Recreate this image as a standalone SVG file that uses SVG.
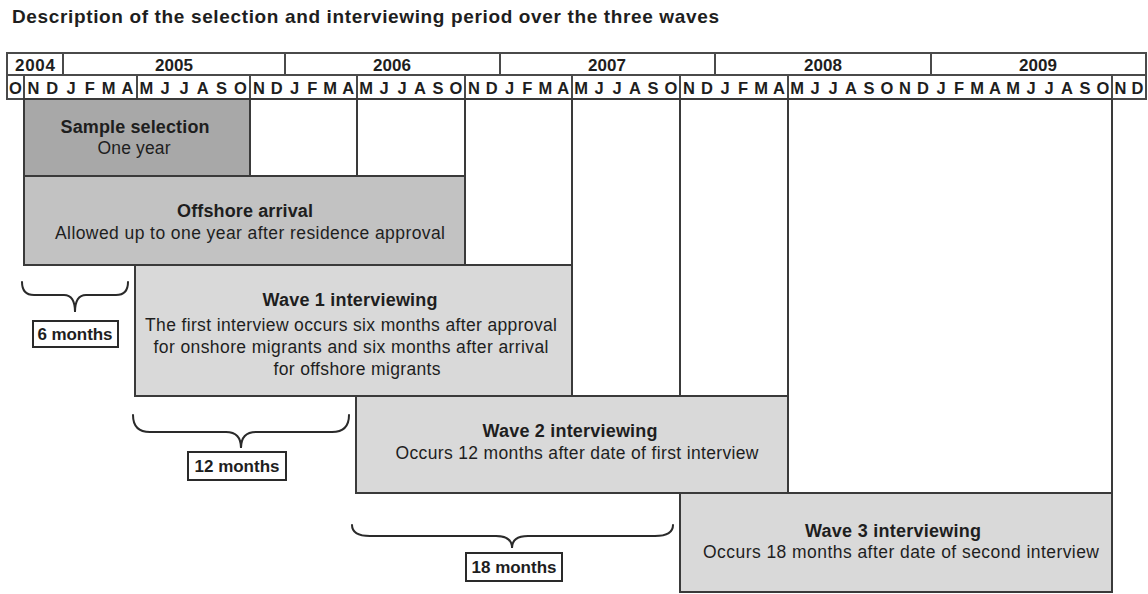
<svg xmlns="http://www.w3.org/2000/svg" width="1148" height="594" viewBox="0 0 1148 594">
<style>
text{font-family:"Liberation Sans",Arial,sans-serif;fill:#1e1e1e}
.t{font-size:19px;font-weight:bold}
.y{font-size:17px;font-weight:bold;text-anchor:middle}
.m{font-size:16.5px;font-weight:bold;text-anchor:middle}
.b{font-size:18px;font-weight:bold;text-anchor:middle}
.r{font-size:17.5px;text-anchor:middle}
.l{font-size:17px;font-weight:bold;text-anchor:middle}
.hdr{fill:#fff;stroke:#4a4a4a;stroke-width:2}
.box{stroke:#3a3a3a;stroke-width:2}
.grid{stroke:#3a3a3a;stroke-width:2;fill:none}
.brace{fill:none;stroke:#2a2a2a;stroke-width:2;stroke-linecap:round}
.lab{fill:#fff;stroke:#2a2a2a;stroke-width:2}
</style>
<rect width="1148" height="594" fill="#fff"/>
<text class="t" x="12" y="23" textLength="707">Description of the selection and interviewing period over the three waves</text>

<g id="header-years">
<rect class="hdr" x="7" y="53" width="56" height="22"/>
<rect class="hdr" x="63" y="53" width="222" height="22"/>
<rect class="hdr" x="285" y="53" width="215" height="22"/>
<rect class="hdr" x="500" y="53" width="215" height="22"/>
<rect class="hdr" x="715" y="53" width="216" height="22"/>
<rect class="hdr" x="931" y="53" width="215" height="22"/>
<text class="y" x="35" y="70.5" textLength="40">2004</text>
<text class="y" x="174" y="70.5" textLength="38">2005</text>
<text class="y" x="392" y="70.5" textLength="38">2006</text>
<text class="y" x="607" y="70.5" textLength="38">2007</text>
<text class="y" x="823" y="70.5" textLength="38">2008</text>
<text class="y" x="1038" y="70.5" textLength="38">2009</text>
</g>

<g id="header-months">
<rect class="hdr" x="7" y="75" width="17" height="24"/>
<rect class="hdr" x="24" y="75" width="113" height="24"/>
<rect class="hdr" x="137" y="75" width="113" height="24"/>
<rect class="hdr" x="250" y="75" width="107" height="24"/>
<rect class="hdr" x="357" y="75" width="108" height="24"/>
<rect class="hdr" x="465" y="75" width="107" height="24"/>
<rect class="hdr" x="572" y="75" width="108" height="24"/>
<rect class="hdr" x="680" y="75" width="108" height="24"/>
<rect class="hdr" x="788" y="75" width="324" height="24"/>
<rect class="hdr" x="1112" y="75" width="34" height="24"/>
<text class="m" y="93.5"><tspan x="15.5">O</tspan><tspan x="33.4">N</tspan><tspan x="52.2">D</tspan><tspan x="71">J</tspan><tspan x="89.8">F</tspan><tspan x="108.6">M</tspan><tspan x="127.5">A</tspan><tspan x="146.4">M</tspan><tspan x="165.2">J</tspan><tspan x="184">J</tspan><tspan x="202.8">A</tspan><tspan x="221.6">S</tspan><tspan x="240.5">O</tspan><tspan x="258.9">N</tspan><tspan x="276.7">D</tspan><tspan x="294.5">J</tspan><tspan x="312.4">F</tspan><tspan x="330.2">M</tspan><tspan x="348.1">A</tspan><tspan x="366">M</tspan><tspan x="384">J</tspan><tspan x="402">J</tspan><tspan x="420">A</tspan><tspan x="438">S</tspan><tspan x="456">O</tspan><tspan x="473.9">N</tspan><tspan x="491.8">D</tspan><tspan x="509.6">J</tspan><tspan x="527.4">F</tspan><tspan x="545.3">M</tspan><tspan x="563.1">A</tspan><tspan x="581">M</tspan><tspan x="599">J</tspan><tspan x="617">J</tspan><tspan x="635">A</tspan><tspan x="653">S</tspan><tspan x="671">O</tspan><tspan x="689">N</tspan><tspan x="707">D</tspan><tspan x="725">J</tspan><tspan x="743">F</tspan><tspan x="761">M</tspan><tspan x="779">A</tspan><tspan x="797">M</tspan><tspan x="815">J</tspan><tspan x="833">J</tspan><tspan x="851">A</tspan><tspan x="869">S</tspan><tspan x="887">O</tspan><tspan x="905">N</tspan><tspan x="923">D</tspan><tspan x="941">J</tspan><tspan x="959">F</tspan><tspan x="977">M</tspan><tspan x="995">A</tspan><tspan x="1013">M</tspan><tspan x="1031">J</tspan><tspan x="1049">J</tspan><tspan x="1067">A</tspan><tspan x="1085">S</tspan><tspan x="1103">O</tspan><tspan x="1120.5">N</tspan><tspan x="1137.5">D</tspan></text>
</g>

<g id="grid">
<path class="grid" d="M250 99V176 M357 99V176 M465 99V265 M572 99V396 M680 99V396 M788 99V493 M1112 99V592 M250 99H1112"/>
</g>

<g id="sample-selection">
<rect class="box" x="24" y="99" width="226" height="77" fill="#a8a8a8"/>
<text class="b" x="135" y="133" textLength="149">Sample selection</text>
<text class="r" x="134" y="154" textLength="73">One year</text>
</g>

<g id="offshore-arrival">
<rect class="box" x="24" y="176" width="441" height="89" fill="#c2c2c2"/>
<text class="b" x="245" y="217" textLength="136">Offshore arrival</text>
<text class="r" x="250" y="239" textLength="390">Allowed up to one year after residence approval</text>
</g>

<g id="wave1">
<rect class="box" x="135" y="265" width="437" height="131" fill="#d9d9d9"/>
<text class="b" x="350" y="306" textLength="175">Wave 1 interviewing</text>
<text class="r" x="351" y="331" textLength="412">The first interview occurs six months after approval</text>
<text class="r" x="351" y="353" textLength="395">for onshore migrants and six months after arrival</text>
<text class="r" x="357" y="375" textLength="167">for offshore migrants</text>
</g>

<g id="wave2">
<rect class="box" x="356" y="396" width="432" height="97" fill="#d9d9d9"/>
<text class="b" x="570" y="437" textLength="175">Wave 2 interviewing</text>
<text class="r" x="577" y="459" textLength="363">Occurs 12 months after date of first interview</text>
</g>

<g id="wave3">
<rect class="box" x="680" y="493" width="432" height="99" fill="#d9d9d9"/>
<text class="b" x="893" y="537" textLength="176">Wave 3 interviewing</text>
<text class="r" x="901" y="558" textLength="396">Occurs 18 months after date of second interview</text>
</g>

<g id="connectors">
<path class="brace" d="M22 282 Q22 295 34 295 L64 295 Q75 295 75 312 Q75 295 86 295 L116 295 Q128 295 128 282"/>
<path class="brace" d="M133 415 Q133 432 150 432 L226 432 Q241 432 241 448 Q241 432 256 432 L332 432 Q349 432 349 415"/>
<path class="brace" d="M352 525 Q352 536 370 536 L496 536 Q512 536 512 548 Q512 536 528 536 L655 536 Q673 536 673 525"/>
</g>

<g id="label-6">
<rect class="lab" x="33" y="321" width="85" height="26"/>
<text class="l" x="75" y="340" textLength="75">6 months</text>
</g>
<g id="label-12">
<rect class="lab" x="188" y="452" width="98" height="28"/>
<text class="l" x="237" y="472" textLength="85">12 months</text>
</g>
<g id="label-18">
<rect class="lab" x="466" y="553" width="96" height="28"/>
<text class="l" x="514" y="573" textLength="85">18 months</text>
</g>
</svg>
